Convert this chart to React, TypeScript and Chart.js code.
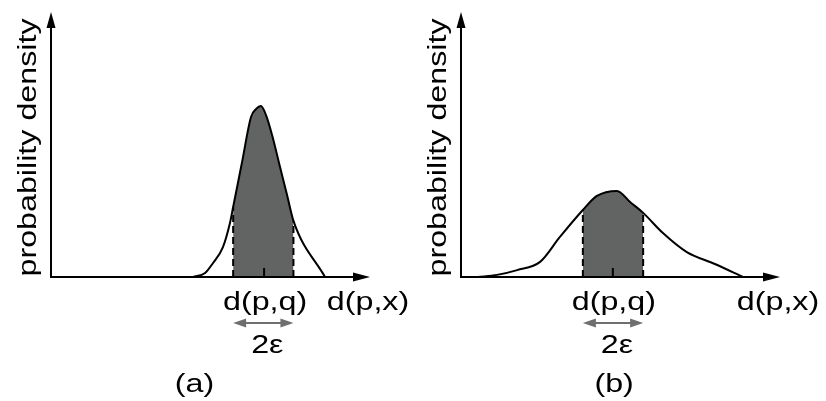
import React, { useEffect, useRef } from "react";
import { Chart, registerables } from "chart.js";

Chart.register(...registerables);

// ---- Panel (a): narrow distribution ----
const distA_x = [44.5, 48.3, 50.8, 53.9, 56.1, 57.1, 59.9, 62.7, 64.3, 65.8, 67.4, 69.3, 71.8, 74.0, 76.0, 85.9];
const distA_y = [0, 1.5, 5.3, 11.3, 20.4, 26.4, 43.4, 60.4, 63.4, 64.5, 61.1, 53.6, 41.5, 30.9, 21.2, 0];
const dpqA = 66.8;
const epsWindowA = [57.1, 76.0];
const captionA = "(a)";
const captionXA = 45;

// ---- Panel (b): wide distribution ----
const distB_x = [5.3, 11.3, 17.6, 24.8, 31.0, 38.2, 42.6, 48.9, 53.0, 57.1, 63.3, 70.8, 79.6, 88.4];
const distB_y = [0, 0.8, 2.6, 5.7, 15.1, 25.3, 30.6, 32.5, 28.3, 24.2, 16.6, 9.4, 4.9, 0];
const dpqB = 47.6;
const epsWindowB = [38.2, 57.1];
const captionB = "(b)";
const captionXB = 48;

// ---- Shared labels ----
const yAxisLabel = "probability density";
const xAxisLabel = "d(p,x)";
const queryLabel = "d(p,q)";
const epsLabel = "2\u03b5";

const FONT = '26px "Liberation Sans", Arial, Helvetica, sans-serif';
const STRETCH = 1.24;
const SHADE = "#626463";
const GRAY = "#6f6f6f";

function stretchedText(ctx: CanvasRenderingContext2D, text: string, x: number, y: number, rot = 0) {
  ctx.save();
  ctx.translate(x, y);
  if (rot) ctx.rotate(rot);
  ctx.scale(STRETCH, 1);
  ctx.font = FONT;
  ctx.fillStyle = "#000";
  ctx.textAlign = "center";
  ctx.textBaseline = "alphabetic";
  ctx.fillText(text, 0, 0);
  ctx.restore();
}

function arrowHead(ctx: CanvasRenderingContext2D, tipX: number, tipY: number, dx: number, dy: number, len: number, half: number, color: string) {
  const bx = tipX - dx * len;
  const by = tipY - dy * len;
  const px = -dy, py = dx;
  ctx.save();
  ctx.fillStyle = color;
  ctx.beginPath();
  ctx.moveTo(tipX, tipY);
  ctx.lineTo(bx + px * half, by + py * half);
  ctx.lineTo(bx - px * half, by - py * half);
  ctx.closePath();
  ctx.fill();
  ctx.restore();
}

type PanelProps = {
  xs: number[];
  ys: number[];
  dpq: number;
  eps: number[];
  caption: string;
  captionX: number;
  width: number;
  left: number;
};

function Panel({ xs, ys, dpq, eps, caption, captionX, width, left }: PanelProps) {
  const ref = useRef<HTMLCanvasElement | null>(null);

  useEffect(() => {
    const canvas = ref.current;
    if (!canvas) return;
    const pts = xs.map((x, i) => ({ x, y: ys[i] }));
    const yAt = (x: number) => {
      const i = xs.indexOf(x);
      return i >= 0 ? ys[i] : 0;
    };

    const decor = {
      id: "decor",
      afterDatasetsDraw(chart: any) {
        const ctx: CanvasRenderingContext2D = chart.ctx;
        const xsc = chart.scales.x;
        const ysc = chart.scales.y;
        const a = chart.chartArea;
        const x0 = xsc.getPixelForValue(0);
        const y0 = ysc.getPixelForValue(0);
        const xEnd = xsc.getPixelForValue(100);
        const yTop = ysc.getPixelForValue(100);

        // axes
        ctx.save();
        ctx.strokeStyle = "#000";
        ctx.lineWidth = 2;
        ctx.lineCap = "butt";
        ctx.beginPath();
        ctx.moveTo(x0, y0 + 1);
        ctx.lineTo(x0, yTop + 14);
        ctx.moveTo(x0 - 1, y0);
        ctx.lineTo(xEnd - 14, y0);
        ctx.stroke();
        ctx.restore();
        arrowHead(ctx, x0, yTop, 0, -1, 16, 4.5, "#000");
        arrowHead(ctx, xEnd, y0, 1, 0, 17, 4.5, "#000");

        // tick at d(p,q)
        const qx = xsc.getPixelForValue(dpq);
        ctx.save();
        ctx.strokeStyle = "#000";
        ctx.lineWidth = 2;
        ctx.beginPath();
        ctx.moveTo(qx, y0);
        ctx.lineTo(qx, y0 - 9);
        ctx.stroke();
        ctx.restore();

        // 2-epsilon double arrow
        const ex0 = xsc.getPixelForValue(eps[0]);
        const ex1 = xsc.getPixelForValue(eps[1]);
        const ay = y0 + 46;
        ctx.save();
        ctx.strokeStyle = GRAY;
        ctx.lineWidth = 2;
        ctx.beginPath();
        ctx.moveTo(ex0 + 8, ay);
        ctx.lineTo(ex1 - 8, ay);
        ctx.stroke();
        ctx.restore();
        arrowHead(ctx, ex0, ay, -1, 0, 13, 4.5, GRAY);
        arrowHead(ctx, ex1, ay, 1, 0, 13, 4.5, GRAY);

        // texts
        stretchedText(ctx, queryLabel, qx + 1, y0 + 33);
        stretchedText(ctx, xAxisLabel, xEnd - 2, y0 + 33);
        stretchedText(ctx, epsLabel, (ex0 + ex1) / 2 + 4, y0 + 76);
        stretchedText(ctx, caption, xsc.getPixelForValue(captionX), y0 + 115);
        stretchedText(ctx, yAxisLabel, x0 - 15, (y0 + a.top) / 2 + 3, -Math.PI / 2);
      },
    };

    const inWindow = (c: any) =>
      c.p0.parsed.x >= eps[0] - 1e-9 && c.p1.parsed.x <= eps[1] + 1e-9;

    const chart = new Chart(canvas, {
      type: "line",
      data: {
        datasets: [
          {
            label: "outline",
            data: pts,
            borderColor: "#000",
            borderWidth: 2,
            fill: false,
            pointRadius: 0,
            cubicInterpolationMode: "monotone",
            order: 0,
            clip: false,
          },
          {
            label: "epsLow",
            data: [
              { x: eps[0], y: 0 },
              { x: eps[0], y: yAt(eps[0]) },
            ],
            borderColor: "#000",
            borderWidth: 2,
            borderDash: [7, 4],
            fill: false,
            pointRadius: 0,
            order: 1,
            clip: false,
          },
          {
            label: "epsHigh",
            data: [
              { x: eps[1], y: 0 },
              { x: eps[1], y: yAt(eps[1]) },
            ],
            borderColor: "#000",
            borderWidth: 2,
            borderDash: [7, 4],
            fill: false,
            pointRadius: 0,
            order: 1,
            clip: false,
          },
          {
            label: "shade",
            data: pts,
            borderWidth: 0,
            borderColor: "rgba(0,0,0,0)",
            backgroundColor: "rgba(0,0,0,0)",
            fill: "origin",
            pointRadius: 0,
            cubicInterpolationMode: "monotone",
            segment: {
              backgroundColor: (c: any) => (inWindow(c) ? SHADE : "rgba(0,0,0,0)"),
            },
            order: 2,
            clip: false,
          },
        ],
      } as any,
      options: {
        animation: false,
        responsive: false,
        maintainAspectRatio: false,
        events: [],
        layout: { padding: { left: 51, right: width - 370, top: 12, bottom: 401 - 277 } },
        plugins: { legend: { display: false }, tooltip: { enabled: false }, title: { display: false } },
        scales: {
          x: { type: "linear", min: 0, max: 100, display: false },
          y: { type: "linear", min: 0, max: 100, display: false },
        },
      } as any,
      plugins: [decor],
    });
    return () => chart.destroy();
  }, [xs, ys, dpq, eps, caption, captionX, width]);

  return (
    <canvas
      ref={ref}
      width={width}
      height={401}
      style={{ position: "absolute", left, top: 0, width, height: 401, display: "block" }}
    />
  );
}

export default function App() {
  useEffect(() => {
    document.body.style.margin = "0";
    document.body.style.background = "#fff";
  }, []);
  return (
    <div style={{ position: "fixed", left: 0, top: 0, width: 826, height: 401, background: "#fff", overflow: "hidden" }}>
      <Panel xs={distA_x} ys={distA_y} dpq={dpqA} eps={epsWindowA} caption={captionA} captionX={captionXA} width={410} left={0} />
      <Panel xs={distB_x} ys={distB_y} dpq={dpqB} eps={epsWindowB} caption={captionB} captionX={captionXB} width={416} left={410} />
    </div>
  );
}
